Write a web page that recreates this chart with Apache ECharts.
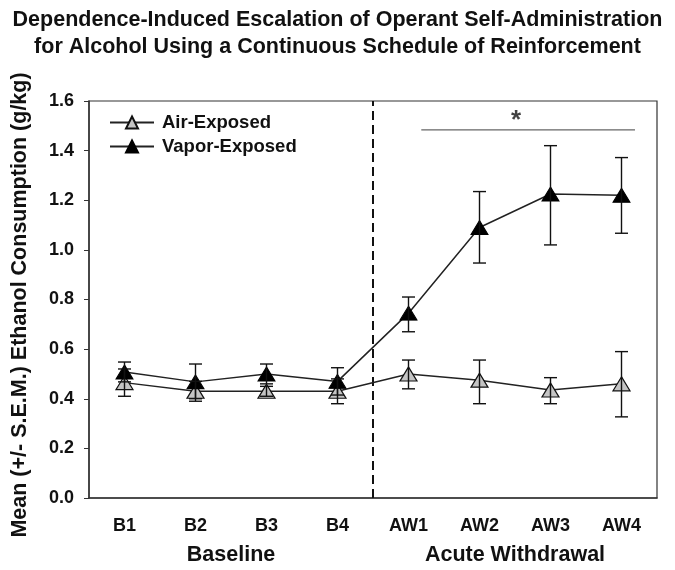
<!DOCTYPE html>
<html><head><meta charset="utf-8">
<script src="https://cdn.jsdelivr.net/npm/echarts@6/dist/echarts.min.js"></script>
<style>html,body{margin:0;padding:0;background:#fff}#c{width:675px;height:570px}</style>
</head><body><div id="c"></div>
<script>
const categories = ['B1','B2','B3','B4','AW1','AW2','AW3','AW4'];
const groupLabels = ['Baseline','Acute Withdrawal'];
const yTicks = [0,0.2,0.4,0.6,0.8,1.0,1.2,1.4,1.6];
const airMean = [0.465,0.43,0.43,0.43,0.50,0.475,0.435,0.46];
const airLow  = [0.41,0.39,0.41,0.38,0.44,0.38,0.38,0.327];
const airHigh = [0.52,0.47,0.45,0.48,0.556,0.556,0.485,0.59];
const vapMean = [0.508,0.468,0.50,0.47,0.745,1.09,1.225,1.22];
const vapLow  = [0.468,0.40,0.46,0.415,0.67,0.947,1.02,1.067];
const vapHigh = [0.548,0.54,0.54,0.525,0.81,1.235,1.42,1.372];
const dividerX = 3.5;
const sigBar = {from: 4.18, to: 7.19, y: 1.484, label: '*'};

const FONT = '"Liberation Sans", Arial, sans-serif';
const chart = echarts.init(document.getElementById('c'), null, {renderer:'canvas'});

function errItem(){
  return function(params, api){
    const x = api.value(0);
    const lo = api.coord([x, api.value(1)]);
    const hi = api.coord([x, api.value(2)]);
    const cap = 6.5;
    const st = {stroke:'#111', lineWidth:1.4};
    return {type:'group', children:[
      {type:'line', shape:{x1:lo[0],y1:lo[1],x2:hi[0],y2:hi[1]}, style:st},
      {type:'line', shape:{x1:lo[0]-cap,y1:lo[1],x2:lo[0]+cap,y2:lo[1]}, style:st},
      {type:'line', shape:{x1:hi[0]-cap,y1:hi[1],x2:hi[0]+cap,y2:hi[1]}, style:st}
    ]};
  };
}

const option = {
  animation:false,
  backgroundColor:'#fff',
  title:{
    text:'Dependence-Induced Escalation of Operant Self-Administration\nfor Alcohol Using a Continuous Schedule of Reinforcement',
    left:'center', top:2,
    textStyle:{fontFamily:FONT, fontSize:21.5, fontWeight:'bold', color:'#111', lineHeight:27}
  },
  legend:{
    data:['Air-Exposed','Vapor-Exposed'],
    orient:'vertical', left:104, top:108, itemGap:5,
    itemWidth:44, itemHeight:15,
    textStyle:{fontFamily:FONT, fontSize:18.5, fontWeight:'bold', color:'#111', padding:[0,0,0,3]}
  },
  grid:{left:89, right:18, top:101, bottom:72, show:true, borderColor:'#333', borderWidth:1.2, backgroundColor:'transparent'},
  xAxis:[
    {type:'category', data:categories, boundaryGap:true,
     axisLine:{onZero:false, lineStyle:{color:'#333', width:1.5}},
     axisTick:{alignWithLabel:true, length:5, inside:false, lineStyle:{color:'#333'}},
     axisLabel:{fontFamily:FONT, fontSize:18, fontWeight:'bold', color:'#111', margin:19},
     splitLine:{show:false}},
    {type:'category', data:groupLabels, position:'bottom', offset:28,
     axisLine:{show:false}, axisTick:{show:false},
     axisLabel:{fontFamily:FONT, fontSize:21.5, fontWeight:'bold', color:'#111', margin:18},
     splitLine:{show:false}},
    {type:'value', min:-0.5, max:7.5, show:false, splitLine:{show:false}}
  ],
  yAxis:{type:'value', min:0, max:1.6, interval:0.2,
    axisLine:{show:true, onZero:false, lineStyle:{color:'#333', width:1.5}},
    axisTick:{show:true, length:5, lineStyle:{color:'#333'}},
    axisLabel:{fontFamily:FONT, fontSize:18, fontWeight:'bold', color:'#111', margin:15,
      formatter:v=>v.toFixed(1)},
    splitLine:{show:false}
  },
  graphic:[{
    type:'text', x:20, y:305, rotation:Math.PI/2,
    style:{text:'Mean (+/- S.E.M.) Ethanol Consumption (g/kg)', font:'bold 21.5px '+FONT, fill:'#111', textAlign:'center', textVerticalAlign:'middle'}
  }],
  series:[
    {name:'divider', type:'line', xAxisIndex:2, data:[[dividerX,0],[dividerX,1.6]], symbol:'none',
     lineStyle:{color:'#111', width:2, type:[9,5]}, silent:true, z:1},
    {name:'sig', type:'line', xAxisIndex:2, data:[[sigBar.from,sigBar.y],[sigBar.to,sigBar.y]], symbol:'none',
     lineStyle:{color:'#666', width:1.2}, silent:true, z:1},
    {name:'sigStar', type:'scatter', xAxisIndex:2, data:[[(sigBar.from+sigBar.to)/2 - 0.17, sigBar.y]], symbolSize:0,
     label:{show:true, formatter:sigBar.label, position:'top', distance:-4, fontFamily:FONT, fontSize:26, fontWeight:'bold', color:'#111'}, silent:true},
    {name:'Air-Exposed', type:'line', xAxisIndex:0, data:airMean, symbol:'triangle', symbolSize:[17,14],
     lineStyle:{color:'#222', width:1.5}, itemStyle:{color:'#c4c4c4', borderColor:'#111', borderWidth:1.2}, z:3},
    {name:'Vapor-Exposed', type:'line', xAxisIndex:0, data:vapMean, symbol:'triangle', symbolSize:[17,14],
     lineStyle:{color:'#222', width:1.5}, itemStyle:{color:'#000', borderColor:'#000', borderWidth:1}, z:4},
    {name:'airErr', type:'custom', xAxisIndex:0, renderItem:errItem(),
     data:categories.map((c,i)=>[i, airLow[i], airHigh[i]]), z:5, silent:true},
    {name:'vapErr', type:'custom', xAxisIndex:0, renderItem:errItem(),
     data:categories.map((c,i)=>[i, vapLow[i], vapHigh[i]]), z:5, silent:true}
  ]
};
chart.setOption(option);
</script></body></html>
